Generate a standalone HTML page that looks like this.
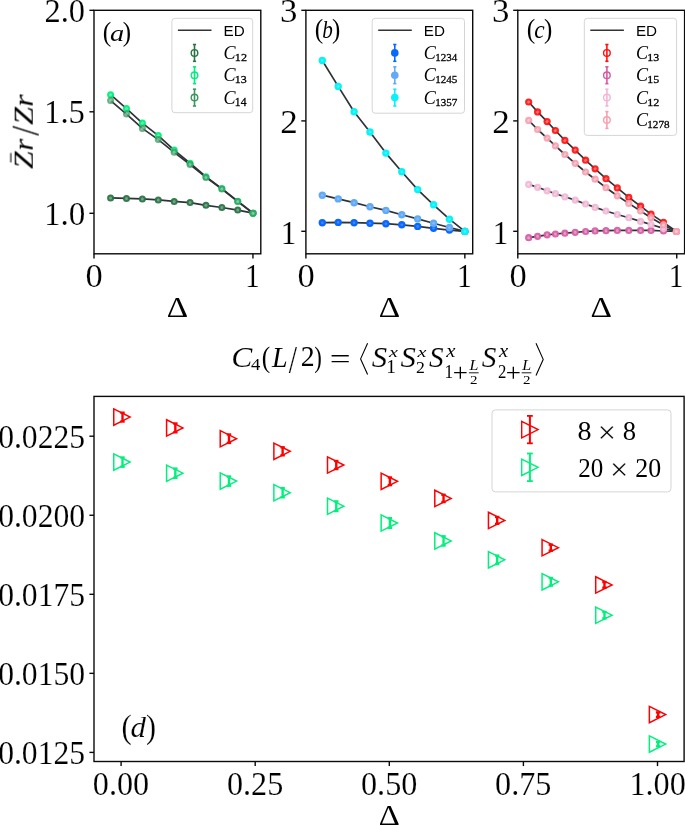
<!DOCTYPE html>
<html><head><meta charset="utf-8"><title>figure</title>
<style>html,body{margin:0;padding:0;background:#fff;overflow:hidden}svg{display:block}</style>
</head><body>
<svg width="685" height="825" viewBox="0 0 685 825"><rect width="685" height="825" fill="#fff"/>
<line x1="94" y1="253.8" x2="94" y2="258.4" stroke="#0a0a0a" stroke-width="1.4" />
<line x1="252.95" y1="253.8" x2="252.95" y2="258.4" stroke="#0a0a0a" stroke-width="1.4" />
<line x1="89.4" y1="10.3" x2="94" y2="10.3" stroke="#0a0a0a" stroke-width="1.4" />
<line x1="89.4" y1="111.8" x2="94" y2="111.8" stroke="#0a0a0a" stroke-width="1.4" />
<line x1="89.4" y1="213.3" x2="94" y2="213.3" stroke="#0a0a0a" stroke-width="1.4" />
<rect x="94" y="10.3" width="166.8" height="243.5" fill="none" stroke="#0a0a0a" stroke-width="1.4"/>
<line x1="305.9" y1="253.8" x2="305.9" y2="258.4" stroke="#0a0a0a" stroke-width="1.4" />
<line x1="464.85" y1="253.8" x2="464.85" y2="258.4" stroke="#0a0a0a" stroke-width="1.4" />
<line x1="301.3" y1="10.3" x2="305.9" y2="10.3" stroke="#0a0a0a" stroke-width="1.4" />
<line x1="301.3" y1="120.9" x2="305.9" y2="120.9" stroke="#0a0a0a" stroke-width="1.4" />
<line x1="301.3" y1="231.3" x2="305.9" y2="231.3" stroke="#0a0a0a" stroke-width="1.4" />
<rect x="305.9" y="10.3" width="166.8" height="243.5" fill="none" stroke="#0a0a0a" stroke-width="1.4"/>
<line x1="517.8" y1="253.8" x2="517.8" y2="258.4" stroke="#0a0a0a" stroke-width="1.4" />
<line x1="676.75" y1="253.8" x2="676.75" y2="258.4" stroke="#0a0a0a" stroke-width="1.4" />
<line x1="513.2" y1="10.3" x2="517.8" y2="10.3" stroke="#0a0a0a" stroke-width="1.4" />
<line x1="513.2" y1="120.9" x2="517.8" y2="120.9" stroke="#0a0a0a" stroke-width="1.4" />
<line x1="513.2" y1="231.3" x2="517.8" y2="231.3" stroke="#0a0a0a" stroke-width="1.4" />
<rect x="517.8" y="10.3" width="166.8" height="243.5" fill="none" stroke="#0a0a0a" stroke-width="1.4"/>
<polyline points="110.59,197.9 126.49,198.4 142.38,198.9 158.28,199.9 174.17,201.4 190.07,202.6 205.96,205.3 221.86,207.5 237.75,210.1 253.05,213.2" fill="none" stroke="#2e3338" stroke-width="1.7" stroke-linejoin="round" />
<polyline points="110.59,94.7 126.49,108.6 142.38,123.1 158.28,135.6 174.17,150.1 190.07,163.2 205.96,176.7 221.86,188.6 237.75,201.2 253.05,213.2" fill="none" stroke="#2e3338" stroke-width="1.7" stroke-linejoin="round" />
<polyline points="110.59,100.6 126.49,114.1 142.38,128.4 158.28,139.6 174.17,152.3 190.07,164.5 205.96,177.4 221.86,189 237.75,201.6 253.05,213.2" fill="none" stroke="#2e3338" stroke-width="1.7" stroke-linejoin="round" />
<circle cx="110.59" cy="197.9" r="3.5" fill="#2a7444" fill-opacity="0.95"/>
<circle cx="110.59" cy="197.9" r="1.5" fill="#fff" fill-opacity="0.35"/>
<circle cx="126.49" cy="198.4" r="3.5" fill="#2a7444" fill-opacity="0.95"/>
<circle cx="126.49" cy="198.4" r="1.5" fill="#fff" fill-opacity="0.35"/>
<circle cx="142.38" cy="198.9" r="3.5" fill="#2a7444" fill-opacity="0.95"/>
<circle cx="142.38" cy="198.9" r="1.5" fill="#fff" fill-opacity="0.35"/>
<circle cx="158.28" cy="199.9" r="3.5" fill="#2a7444" fill-opacity="0.95"/>
<circle cx="158.28" cy="199.9" r="1.5" fill="#fff" fill-opacity="0.35"/>
<circle cx="174.17" cy="201.4" r="3.5" fill="#2a7444" fill-opacity="0.95"/>
<circle cx="174.17" cy="201.4" r="1.5" fill="#fff" fill-opacity="0.35"/>
<circle cx="190.07" cy="202.6" r="3.5" fill="#2a7444" fill-opacity="0.95"/>
<circle cx="190.07" cy="202.6" r="1.5" fill="#fff" fill-opacity="0.35"/>
<circle cx="205.96" cy="205.3" r="3.5" fill="#2a7444" fill-opacity="0.95"/>
<circle cx="205.96" cy="205.3" r="1.5" fill="#fff" fill-opacity="0.35"/>
<circle cx="221.86" cy="207.5" r="3.5" fill="#2a7444" fill-opacity="0.95"/>
<circle cx="221.86" cy="207.5" r="1.5" fill="#fff" fill-opacity="0.35"/>
<circle cx="237.75" cy="210.1" r="3.5" fill="#2a7444" fill-opacity="0.95"/>
<circle cx="237.75" cy="210.1" r="1.5" fill="#fff" fill-opacity="0.35"/>
<circle cx="253.05" cy="213.2" r="3.5" fill="#2a7444" fill-opacity="0.95"/>
<circle cx="253.05" cy="213.2" r="1.5" fill="#fff" fill-opacity="0.35"/>
<circle cx="110.59" cy="94.7" r="3.5" fill="#00ef7a" fill-opacity="0.95"/>
<circle cx="110.59" cy="94.7" r="1.5" fill="#fff" fill-opacity="0.35"/>
<circle cx="126.49" cy="108.6" r="3.5" fill="#00ef7a" fill-opacity="0.95"/>
<circle cx="126.49" cy="108.6" r="1.5" fill="#fff" fill-opacity="0.35"/>
<circle cx="142.38" cy="123.1" r="3.5" fill="#00ef7a" fill-opacity="0.95"/>
<circle cx="142.38" cy="123.1" r="1.5" fill="#fff" fill-opacity="0.35"/>
<circle cx="158.28" cy="135.6" r="3.5" fill="#00ef7a" fill-opacity="0.95"/>
<circle cx="158.28" cy="135.6" r="1.5" fill="#fff" fill-opacity="0.35"/>
<circle cx="174.17" cy="150.1" r="3.5" fill="#00ef7a" fill-opacity="0.95"/>
<circle cx="174.17" cy="150.1" r="1.5" fill="#fff" fill-opacity="0.35"/>
<circle cx="190.07" cy="163.2" r="3.5" fill="#00ef7a" fill-opacity="0.95"/>
<circle cx="190.07" cy="163.2" r="1.5" fill="#fff" fill-opacity="0.35"/>
<circle cx="205.96" cy="176.7" r="3.5" fill="#00ef7a" fill-opacity="0.95"/>
<circle cx="205.96" cy="176.7" r="1.5" fill="#fff" fill-opacity="0.35"/>
<circle cx="221.86" cy="188.6" r="3.5" fill="#00ef7a" fill-opacity="0.95"/>
<circle cx="221.86" cy="188.6" r="1.5" fill="#fff" fill-opacity="0.35"/>
<circle cx="237.75" cy="201.2" r="3.5" fill="#00ef7a" fill-opacity="0.95"/>
<circle cx="237.75" cy="201.2" r="1.5" fill="#fff" fill-opacity="0.35"/>
<circle cx="253.05" cy="213.2" r="3.5" fill="#00ef7a" fill-opacity="0.95"/>
<circle cx="253.05" cy="213.2" r="1.5" fill="#fff" fill-opacity="0.35"/>
<circle cx="110.59" cy="100.6" r="3.5" fill="#3c965f" fill-opacity="0.75"/>
<circle cx="110.59" cy="100.6" r="1.5" fill="#fff" fill-opacity="0.35"/>
<circle cx="126.49" cy="114.1" r="3.5" fill="#3c965f" fill-opacity="0.75"/>
<circle cx="126.49" cy="114.1" r="1.5" fill="#fff" fill-opacity="0.35"/>
<circle cx="142.38" cy="128.4" r="3.5" fill="#3c965f" fill-opacity="0.75"/>
<circle cx="142.38" cy="128.4" r="1.5" fill="#fff" fill-opacity="0.35"/>
<circle cx="158.28" cy="139.6" r="3.5" fill="#3c965f" fill-opacity="0.75"/>
<circle cx="158.28" cy="139.6" r="1.5" fill="#fff" fill-opacity="0.35"/>
<circle cx="174.17" cy="152.3" r="3.5" fill="#3c965f" fill-opacity="0.75"/>
<circle cx="174.17" cy="152.3" r="1.5" fill="#fff" fill-opacity="0.35"/>
<circle cx="190.07" cy="164.5" r="3.5" fill="#3c965f" fill-opacity="0.75"/>
<circle cx="190.07" cy="164.5" r="1.5" fill="#fff" fill-opacity="0.35"/>
<circle cx="205.96" cy="177.4" r="3.5" fill="#3c965f" fill-opacity="0.75"/>
<circle cx="205.96" cy="177.4" r="1.5" fill="#fff" fill-opacity="0.35"/>
<circle cx="221.86" cy="189" r="3.5" fill="#3c965f" fill-opacity="0.75"/>
<circle cx="221.86" cy="189" r="1.5" fill="#fff" fill-opacity="0.35"/>
<circle cx="237.75" cy="201.6" r="3.5" fill="#3c965f" fill-opacity="0.75"/>
<circle cx="237.75" cy="201.6" r="1.5" fill="#fff" fill-opacity="0.35"/>
<circle cx="253.05" cy="213.2" r="3.5" fill="#3c965f" fill-opacity="0.75"/>
<circle cx="253.05" cy="213.2" r="1.5" fill="#fff" fill-opacity="0.35"/>
<polyline points="322.29,222.7 338.19,222.4 354.08,222.7 369.98,223.2 385.88,223.7 401.77,224.8 417.66,226.4 433.56,228.3 449.45,230.1 464.85,231.4" fill="none" stroke="#2e3338" stroke-width="1.7" stroke-linejoin="round" />
<polyline points="322.29,195.2 338.19,198.9 354.08,202.7 369.98,206.7 385.88,210.4 401.77,214.7 417.66,218.9 433.56,223.2 449.45,227.5 464.85,231.4" fill="none" stroke="#2e3338" stroke-width="1.7" stroke-linejoin="round" />
<polyline points="322.29,60.5 338.19,86.4 354.08,111.7 369.98,132 385.88,153.1 401.77,171.7 417.66,189.6 433.56,204.8 449.45,219.2 464.85,231.4" fill="none" stroke="#2e3338" stroke-width="1.7" stroke-linejoin="round" />
<circle cx="322.29" cy="222.7" r="3.7" fill="#0a68ff" fill-opacity="1.0"/>
<circle cx="322.29" cy="222.7" r="1.3" fill="#fff" fill-opacity="0.22"/>
<circle cx="338.19" cy="222.4" r="3.7" fill="#0a68ff" fill-opacity="1.0"/>
<circle cx="338.19" cy="222.4" r="1.3" fill="#fff" fill-opacity="0.22"/>
<circle cx="354.08" cy="222.7" r="3.7" fill="#0a68ff" fill-opacity="1.0"/>
<circle cx="354.08" cy="222.7" r="1.3" fill="#fff" fill-opacity="0.22"/>
<circle cx="369.98" cy="223.2" r="3.7" fill="#0a68ff" fill-opacity="1.0"/>
<circle cx="369.98" cy="223.2" r="1.3" fill="#fff" fill-opacity="0.22"/>
<circle cx="385.88" cy="223.7" r="3.7" fill="#0a68ff" fill-opacity="1.0"/>
<circle cx="385.88" cy="223.7" r="1.3" fill="#fff" fill-opacity="0.22"/>
<circle cx="401.77" cy="224.8" r="3.7" fill="#0a68ff" fill-opacity="1.0"/>
<circle cx="401.77" cy="224.8" r="1.3" fill="#fff" fill-opacity="0.22"/>
<circle cx="417.66" cy="226.4" r="3.7" fill="#0a68ff" fill-opacity="1.0"/>
<circle cx="417.66" cy="226.4" r="1.3" fill="#fff" fill-opacity="0.22"/>
<circle cx="433.56" cy="228.3" r="3.7" fill="#0a68ff" fill-opacity="1.0"/>
<circle cx="433.56" cy="228.3" r="1.3" fill="#fff" fill-opacity="0.22"/>
<circle cx="449.45" cy="230.1" r="3.7" fill="#0a68ff" fill-opacity="1.0"/>
<circle cx="449.45" cy="230.1" r="1.3" fill="#fff" fill-opacity="0.22"/>
<circle cx="464.85" cy="231.4" r="3.7" fill="#0a68ff" fill-opacity="1.0"/>
<circle cx="464.85" cy="231.4" r="1.3" fill="#fff" fill-opacity="0.22"/>
<circle cx="322.29" cy="195.2" r="3.7" fill="#62aaf6" fill-opacity="1.0"/>
<circle cx="322.29" cy="195.2" r="1.3" fill="#fff" fill-opacity="0.22"/>
<circle cx="338.19" cy="198.9" r="3.7" fill="#62aaf6" fill-opacity="1.0"/>
<circle cx="338.19" cy="198.9" r="1.3" fill="#fff" fill-opacity="0.22"/>
<circle cx="354.08" cy="202.7" r="3.7" fill="#62aaf6" fill-opacity="1.0"/>
<circle cx="354.08" cy="202.7" r="1.3" fill="#fff" fill-opacity="0.22"/>
<circle cx="369.98" cy="206.7" r="3.7" fill="#62aaf6" fill-opacity="1.0"/>
<circle cx="369.98" cy="206.7" r="1.3" fill="#fff" fill-opacity="0.22"/>
<circle cx="385.88" cy="210.4" r="3.7" fill="#62aaf6" fill-opacity="1.0"/>
<circle cx="385.88" cy="210.4" r="1.3" fill="#fff" fill-opacity="0.22"/>
<circle cx="401.77" cy="214.7" r="3.7" fill="#62aaf6" fill-opacity="1.0"/>
<circle cx="401.77" cy="214.7" r="1.3" fill="#fff" fill-opacity="0.22"/>
<circle cx="417.66" cy="218.9" r="3.7" fill="#62aaf6" fill-opacity="1.0"/>
<circle cx="417.66" cy="218.9" r="1.3" fill="#fff" fill-opacity="0.22"/>
<circle cx="433.56" cy="223.2" r="3.7" fill="#62aaf6" fill-opacity="1.0"/>
<circle cx="433.56" cy="223.2" r="1.3" fill="#fff" fill-opacity="0.22"/>
<circle cx="449.45" cy="227.5" r="3.7" fill="#62aaf6" fill-opacity="1.0"/>
<circle cx="449.45" cy="227.5" r="1.3" fill="#fff" fill-opacity="0.22"/>
<circle cx="464.85" cy="231.4" r="3.7" fill="#62aaf6" fill-opacity="1.0"/>
<circle cx="464.85" cy="231.4" r="1.3" fill="#fff" fill-opacity="0.22"/>
<circle cx="322.29" cy="60.5" r="3.7" fill="#0af2f6" fill-opacity="1.0"/>
<circle cx="322.29" cy="60.5" r="1.3" fill="#fff" fill-opacity="0.22"/>
<circle cx="338.19" cy="86.4" r="3.7" fill="#0af2f6" fill-opacity="1.0"/>
<circle cx="338.19" cy="86.4" r="1.3" fill="#fff" fill-opacity="0.22"/>
<circle cx="354.08" cy="111.7" r="3.7" fill="#0af2f6" fill-opacity="1.0"/>
<circle cx="354.08" cy="111.7" r="1.3" fill="#fff" fill-opacity="0.22"/>
<circle cx="369.98" cy="132" r="3.7" fill="#0af2f6" fill-opacity="1.0"/>
<circle cx="369.98" cy="132" r="1.3" fill="#fff" fill-opacity="0.22"/>
<circle cx="385.88" cy="153.1" r="3.7" fill="#0af2f6" fill-opacity="1.0"/>
<circle cx="385.88" cy="153.1" r="1.3" fill="#fff" fill-opacity="0.22"/>
<circle cx="401.77" cy="171.7" r="3.7" fill="#0af2f6" fill-opacity="1.0"/>
<circle cx="401.77" cy="171.7" r="1.3" fill="#fff" fill-opacity="0.22"/>
<circle cx="417.66" cy="189.6" r="3.7" fill="#0af2f6" fill-opacity="1.0"/>
<circle cx="417.66" cy="189.6" r="1.3" fill="#fff" fill-opacity="0.22"/>
<circle cx="433.56" cy="204.8" r="3.7" fill="#0af2f6" fill-opacity="1.0"/>
<circle cx="433.56" cy="204.8" r="1.3" fill="#fff" fill-opacity="0.22"/>
<circle cx="449.45" cy="219.2" r="3.7" fill="#0af2f6" fill-opacity="1.0"/>
<circle cx="449.45" cy="219.2" r="1.3" fill="#fff" fill-opacity="0.22"/>
<circle cx="464.85" cy="231.4" r="3.7" fill="#0af2f6" fill-opacity="1.0"/>
<circle cx="464.85" cy="231.4" r="1.3" fill="#fff" fill-opacity="0.22"/>
<polyline points="528.7,102 537.6,111.9 547.1,121.6 555.4,130.5 564.9,140.4 575.2,150.1 585.6,160.2 595.1,168.8 606,178.7 617.3,187.9 628.8,197.4 640.6,206.2 651,214.1 663.5,222.4 676.4,231.5" fill="none" stroke="#2e3338" stroke-width="1.7" stroke-linejoin="round" />
<polyline points="528.7,237.7 537.6,236.3 547.1,234.8 555.4,234 564.9,233.2 575.2,232.3 585.6,231.5 595.1,230.9 606,230.7 617.3,230.4 628.8,230.4 640.6,230.4 651,230.4 663.5,231 676.4,231.5" fill="none" stroke="#2e3338" stroke-width="1.7" stroke-linejoin="round" />
<polyline points="528.7,184.4 537.6,187.3 547.1,190.8 555.4,193.7 564.9,196.8 575.2,200.1 585.6,204 595.1,207.4 606,211 617.3,214.5 628.8,217.7 640.6,221.4 651,224.5 663.5,228.4 676.4,231.5" fill="none" stroke="#2e3338" stroke-width="1.7" stroke-linejoin="round" />
<polyline points="528.7,120.4 537.6,129.5 547.1,138.1 555.4,145.8 564.9,154.5 575.2,163.3 585.6,172 595.1,179.2 606,187.7 617.3,195.8 628.8,203.4 640.6,211 651,217.7 663.5,224.9 676.4,231.5" fill="none" stroke="#2e3338" stroke-width="1.7" stroke-linejoin="round" />
<circle cx="528.7" cy="102" r="3.6" fill="#ff1010" fill-opacity="0.92"/>
<circle cx="528.7" cy="102" r="1.5" fill="#fff" fill-opacity="0.4"/>
<circle cx="537.6" cy="111.9" r="3.6" fill="#ff1010" fill-opacity="0.92"/>
<circle cx="537.6" cy="111.9" r="1.5" fill="#fff" fill-opacity="0.4"/>
<circle cx="547.1" cy="121.6" r="3.6" fill="#ff1010" fill-opacity="0.92"/>
<circle cx="547.1" cy="121.6" r="1.5" fill="#fff" fill-opacity="0.4"/>
<circle cx="555.4" cy="130.5" r="3.6" fill="#ff1010" fill-opacity="0.92"/>
<circle cx="555.4" cy="130.5" r="1.5" fill="#fff" fill-opacity="0.4"/>
<circle cx="564.9" cy="140.4" r="3.6" fill="#ff1010" fill-opacity="0.92"/>
<circle cx="564.9" cy="140.4" r="1.5" fill="#fff" fill-opacity="0.4"/>
<circle cx="575.2" cy="150.1" r="3.6" fill="#ff1010" fill-opacity="0.92"/>
<circle cx="575.2" cy="150.1" r="1.5" fill="#fff" fill-opacity="0.4"/>
<circle cx="585.6" cy="160.2" r="3.6" fill="#ff1010" fill-opacity="0.92"/>
<circle cx="585.6" cy="160.2" r="1.5" fill="#fff" fill-opacity="0.4"/>
<circle cx="595.1" cy="168.8" r="3.6" fill="#ff1010" fill-opacity="0.92"/>
<circle cx="595.1" cy="168.8" r="1.5" fill="#fff" fill-opacity="0.4"/>
<circle cx="606" cy="178.7" r="3.6" fill="#ff1010" fill-opacity="0.92"/>
<circle cx="606" cy="178.7" r="1.5" fill="#fff" fill-opacity="0.4"/>
<circle cx="617.3" cy="187.9" r="3.6" fill="#ff1010" fill-opacity="0.92"/>
<circle cx="617.3" cy="187.9" r="1.5" fill="#fff" fill-opacity="0.4"/>
<circle cx="628.8" cy="197.4" r="3.6" fill="#ff1010" fill-opacity="0.92"/>
<circle cx="628.8" cy="197.4" r="1.5" fill="#fff" fill-opacity="0.4"/>
<circle cx="640.6" cy="206.2" r="3.6" fill="#ff1010" fill-opacity="0.92"/>
<circle cx="640.6" cy="206.2" r="1.5" fill="#fff" fill-opacity="0.4"/>
<circle cx="651" cy="214.1" r="3.6" fill="#ff1010" fill-opacity="0.92"/>
<circle cx="651" cy="214.1" r="1.5" fill="#fff" fill-opacity="0.4"/>
<circle cx="663.5" cy="222.4" r="3.6" fill="#ff1010" fill-opacity="0.92"/>
<circle cx="663.5" cy="222.4" r="1.5" fill="#fff" fill-opacity="0.4"/>
<circle cx="676.4" cy="231.5" r="3.6" fill="#ff1010" fill-opacity="0.92"/>
<circle cx="676.4" cy="231.5" r="1.5" fill="#fff" fill-opacity="0.4"/>
<circle cx="528.7" cy="237.7" r="3.6" fill="#d65aa2" fill-opacity="0.92"/>
<circle cx="528.7" cy="237.7" r="1.5" fill="#fff" fill-opacity="0.4"/>
<circle cx="537.6" cy="236.3" r="3.6" fill="#d65aa2" fill-opacity="0.92"/>
<circle cx="537.6" cy="236.3" r="1.5" fill="#fff" fill-opacity="0.4"/>
<circle cx="547.1" cy="234.8" r="3.6" fill="#d65aa2" fill-opacity="0.92"/>
<circle cx="547.1" cy="234.8" r="1.5" fill="#fff" fill-opacity="0.4"/>
<circle cx="555.4" cy="234" r="3.6" fill="#d65aa2" fill-opacity="0.92"/>
<circle cx="555.4" cy="234" r="1.5" fill="#fff" fill-opacity="0.4"/>
<circle cx="564.9" cy="233.2" r="3.6" fill="#d65aa2" fill-opacity="0.92"/>
<circle cx="564.9" cy="233.2" r="1.5" fill="#fff" fill-opacity="0.4"/>
<circle cx="575.2" cy="232.3" r="3.6" fill="#d65aa2" fill-opacity="0.92"/>
<circle cx="575.2" cy="232.3" r="1.5" fill="#fff" fill-opacity="0.4"/>
<circle cx="585.6" cy="231.5" r="3.6" fill="#d65aa2" fill-opacity="0.92"/>
<circle cx="585.6" cy="231.5" r="1.5" fill="#fff" fill-opacity="0.4"/>
<circle cx="595.1" cy="230.9" r="3.6" fill="#d65aa2" fill-opacity="0.92"/>
<circle cx="595.1" cy="230.9" r="1.5" fill="#fff" fill-opacity="0.4"/>
<circle cx="606" cy="230.7" r="3.6" fill="#d65aa2" fill-opacity="0.92"/>
<circle cx="606" cy="230.7" r="1.5" fill="#fff" fill-opacity="0.4"/>
<circle cx="617.3" cy="230.4" r="3.6" fill="#d65aa2" fill-opacity="0.92"/>
<circle cx="617.3" cy="230.4" r="1.5" fill="#fff" fill-opacity="0.4"/>
<circle cx="628.8" cy="230.4" r="3.6" fill="#d65aa2" fill-opacity="0.92"/>
<circle cx="628.8" cy="230.4" r="1.5" fill="#fff" fill-opacity="0.4"/>
<circle cx="640.6" cy="230.4" r="3.6" fill="#d65aa2" fill-opacity="0.92"/>
<circle cx="640.6" cy="230.4" r="1.5" fill="#fff" fill-opacity="0.4"/>
<circle cx="651" cy="230.4" r="3.6" fill="#d65aa2" fill-opacity="0.92"/>
<circle cx="651" cy="230.4" r="1.5" fill="#fff" fill-opacity="0.4"/>
<circle cx="663.5" cy="231" r="3.6" fill="#d65aa2" fill-opacity="0.92"/>
<circle cx="663.5" cy="231" r="1.5" fill="#fff" fill-opacity="0.4"/>
<circle cx="676.4" cy="231.5" r="3.6" fill="#d65aa2" fill-opacity="0.92"/>
<circle cx="676.4" cy="231.5" r="1.5" fill="#fff" fill-opacity="0.4"/>
<circle cx="528.7" cy="184.4" r="3.6" fill="#f2b6d6" fill-opacity="0.92"/>
<circle cx="528.7" cy="184.4" r="1.5" fill="#fff" fill-opacity="0.4"/>
<circle cx="537.6" cy="187.3" r="3.6" fill="#f2b6d6" fill-opacity="0.92"/>
<circle cx="537.6" cy="187.3" r="1.5" fill="#fff" fill-opacity="0.4"/>
<circle cx="547.1" cy="190.8" r="3.6" fill="#f2b6d6" fill-opacity="0.92"/>
<circle cx="547.1" cy="190.8" r="1.5" fill="#fff" fill-opacity="0.4"/>
<circle cx="555.4" cy="193.7" r="3.6" fill="#f2b6d6" fill-opacity="0.92"/>
<circle cx="555.4" cy="193.7" r="1.5" fill="#fff" fill-opacity="0.4"/>
<circle cx="564.9" cy="196.8" r="3.6" fill="#f2b6d6" fill-opacity="0.92"/>
<circle cx="564.9" cy="196.8" r="1.5" fill="#fff" fill-opacity="0.4"/>
<circle cx="575.2" cy="200.1" r="3.6" fill="#f2b6d6" fill-opacity="0.92"/>
<circle cx="575.2" cy="200.1" r="1.5" fill="#fff" fill-opacity="0.4"/>
<circle cx="585.6" cy="204" r="3.6" fill="#f2b6d6" fill-opacity="0.92"/>
<circle cx="585.6" cy="204" r="1.5" fill="#fff" fill-opacity="0.4"/>
<circle cx="595.1" cy="207.4" r="3.6" fill="#f2b6d6" fill-opacity="0.92"/>
<circle cx="595.1" cy="207.4" r="1.5" fill="#fff" fill-opacity="0.4"/>
<circle cx="606" cy="211" r="3.6" fill="#f2b6d6" fill-opacity="0.92"/>
<circle cx="606" cy="211" r="1.5" fill="#fff" fill-opacity="0.4"/>
<circle cx="617.3" cy="214.5" r="3.6" fill="#f2b6d6" fill-opacity="0.92"/>
<circle cx="617.3" cy="214.5" r="1.5" fill="#fff" fill-opacity="0.4"/>
<circle cx="628.8" cy="217.7" r="3.6" fill="#f2b6d6" fill-opacity="0.92"/>
<circle cx="628.8" cy="217.7" r="1.5" fill="#fff" fill-opacity="0.4"/>
<circle cx="640.6" cy="221.4" r="3.6" fill="#f2b6d6" fill-opacity="0.92"/>
<circle cx="640.6" cy="221.4" r="1.5" fill="#fff" fill-opacity="0.4"/>
<circle cx="651" cy="224.5" r="3.6" fill="#f2b6d6" fill-opacity="0.92"/>
<circle cx="651" cy="224.5" r="1.5" fill="#fff" fill-opacity="0.4"/>
<circle cx="663.5" cy="228.4" r="3.6" fill="#f2b6d6" fill-opacity="0.92"/>
<circle cx="663.5" cy="228.4" r="1.5" fill="#fff" fill-opacity="0.4"/>
<circle cx="676.4" cy="231.5" r="3.6" fill="#f2b6d6" fill-opacity="0.92"/>
<circle cx="676.4" cy="231.5" r="1.5" fill="#fff" fill-opacity="0.4"/>
<circle cx="528.7" cy="120.4" r="3.6" fill="#f7a0b0" fill-opacity="0.92"/>
<circle cx="528.7" cy="120.4" r="1.5" fill="#fff" fill-opacity="0.4"/>
<circle cx="537.6" cy="129.5" r="3.6" fill="#f7a0b0" fill-opacity="0.92"/>
<circle cx="537.6" cy="129.5" r="1.5" fill="#fff" fill-opacity="0.4"/>
<circle cx="547.1" cy="138.1" r="3.6" fill="#f7a0b0" fill-opacity="0.92"/>
<circle cx="547.1" cy="138.1" r="1.5" fill="#fff" fill-opacity="0.4"/>
<circle cx="555.4" cy="145.8" r="3.6" fill="#f7a0b0" fill-opacity="0.92"/>
<circle cx="555.4" cy="145.8" r="1.5" fill="#fff" fill-opacity="0.4"/>
<circle cx="564.9" cy="154.5" r="3.6" fill="#f7a0b0" fill-opacity="0.92"/>
<circle cx="564.9" cy="154.5" r="1.5" fill="#fff" fill-opacity="0.4"/>
<circle cx="575.2" cy="163.3" r="3.6" fill="#f7a0b0" fill-opacity="0.92"/>
<circle cx="575.2" cy="163.3" r="1.5" fill="#fff" fill-opacity="0.4"/>
<circle cx="585.6" cy="172" r="3.6" fill="#f7a0b0" fill-opacity="0.92"/>
<circle cx="585.6" cy="172" r="1.5" fill="#fff" fill-opacity="0.4"/>
<circle cx="595.1" cy="179.2" r="3.6" fill="#f7a0b0" fill-opacity="0.92"/>
<circle cx="595.1" cy="179.2" r="1.5" fill="#fff" fill-opacity="0.4"/>
<circle cx="606" cy="187.7" r="3.6" fill="#f7a0b0" fill-opacity="0.92"/>
<circle cx="606" cy="187.7" r="1.5" fill="#fff" fill-opacity="0.4"/>
<circle cx="617.3" cy="195.8" r="3.6" fill="#f7a0b0" fill-opacity="0.92"/>
<circle cx="617.3" cy="195.8" r="1.5" fill="#fff" fill-opacity="0.4"/>
<circle cx="628.8" cy="203.4" r="3.6" fill="#f7a0b0" fill-opacity="0.92"/>
<circle cx="628.8" cy="203.4" r="1.5" fill="#fff" fill-opacity="0.4"/>
<circle cx="640.6" cy="211" r="3.6" fill="#f7a0b0" fill-opacity="0.92"/>
<circle cx="640.6" cy="211" r="1.5" fill="#fff" fill-opacity="0.4"/>
<circle cx="651" cy="217.7" r="3.6" fill="#f7a0b0" fill-opacity="0.92"/>
<circle cx="651" cy="217.7" r="1.5" fill="#fff" fill-opacity="0.4"/>
<circle cx="663.5" cy="224.9" r="3.6" fill="#f7a0b0" fill-opacity="0.92"/>
<circle cx="663.5" cy="224.9" r="1.5" fill="#fff" fill-opacity="0.4"/>
<circle cx="676.4" cy="231.5" r="3.6" fill="#f7a0b0" fill-opacity="0.92"/>
<circle cx="676.4" cy="231.5" r="1.5" fill="#fff" fill-opacity="0.4"/>
<rect x="171.9" y="18.3" width="80.8" height="94.4" rx="3" ry="3" fill="#fff" fill-opacity="0.8" stroke="#d5d5d5" stroke-width="1"/>
<line x1="177.9" y1="30.2" x2="211.5" y2="30.2" stroke="#333" stroke-width="1.6" />
<line x1="194.5" y1="44.5" x2="194.5" y2="61.3" stroke="#2a7444" stroke-width="1.6" />
<line x1="192.9" y1="44.5" x2="196.1" y2="44.5" stroke="#2a7444" stroke-width="1.6" />
<line x1="192.9" y1="61.3" x2="196.1" y2="61.3" stroke="#2a7444" stroke-width="1.6" />
<circle cx="194.5" cy="52.9" r="3.3" fill="none" stroke="#2a7444" stroke-width="1.4"/>
<line x1="194.5" y1="66.85" x2="194.5" y2="83.65" stroke="#00ef7a" stroke-width="1.6" />
<line x1="192.9" y1="66.85" x2="196.1" y2="66.85" stroke="#00ef7a" stroke-width="1.6" />
<line x1="192.9" y1="83.65" x2="196.1" y2="83.65" stroke="#00ef7a" stroke-width="1.6" />
<circle cx="194.5" cy="75.25" r="3.3" fill="none" stroke="#00ef7a" stroke-width="1.4"/>
<line x1="194.5" y1="89.2" x2="194.5" y2="106" stroke="#3c965f" stroke-width="1.6" />
<line x1="192.9" y1="89.2" x2="196.1" y2="89.2" stroke="#3c965f" stroke-width="1.6" />
<line x1="192.9" y1="106" x2="196.1" y2="106" stroke="#3c965f" stroke-width="1.6" />
<circle cx="194.5" cy="97.6" r="3.3" fill="none" stroke="#3c965f" stroke-width="1.4"/>
<rect x="372.2" y="18.3" width="92.3" height="94.9" rx="3" ry="3" fill="#fff" fill-opacity="0.8" stroke="#d5d5d5" stroke-width="1"/>
<line x1="378.2" y1="30.2" x2="411.8" y2="30.2" stroke="#333" stroke-width="1.6" />
<line x1="394.8" y1="44.5" x2="394.8" y2="61.3" stroke="#0a68ff" stroke-width="1.6" />
<line x1="393.2" y1="44.5" x2="396.4" y2="44.5" stroke="#0a68ff" stroke-width="1.6" />
<line x1="393.2" y1="61.3" x2="396.4" y2="61.3" stroke="#0a68ff" stroke-width="1.6" />
<circle cx="394.8" cy="52.9" r="3.8" fill="#0a68ff"/>
<line x1="394.8" y1="66.85" x2="394.8" y2="83.65" stroke="#62aaf6" stroke-width="1.6" />
<line x1="393.2" y1="66.85" x2="396.4" y2="66.85" stroke="#62aaf6" stroke-width="1.6" />
<line x1="393.2" y1="83.65" x2="396.4" y2="83.65" stroke="#62aaf6" stroke-width="1.6" />
<circle cx="394.8" cy="75.25" r="3.8" fill="#62aaf6"/>
<line x1="394.8" y1="89.2" x2="394.8" y2="106" stroke="#0af2f6" stroke-width="1.6" />
<line x1="393.2" y1="89.2" x2="396.4" y2="89.2" stroke="#0af2f6" stroke-width="1.6" />
<line x1="393.2" y1="106" x2="396.4" y2="106" stroke="#0af2f6" stroke-width="1.6" />
<circle cx="394.8" cy="97.6" r="3.8" fill="#0af2f6"/>
<rect x="584.3" y="18.3" width="92.3" height="117.1" rx="3" ry="3" fill="#fff" fill-opacity="0.8" stroke="#d5d5d5" stroke-width="1"/>
<line x1="590.3" y1="30.2" x2="623.9" y2="30.2" stroke="#333" stroke-width="1.6" />
<line x1="606.9" y1="44.5" x2="606.9" y2="61.3" stroke="#ff1010" stroke-width="1.6" />
<line x1="605.3" y1="44.5" x2="608.5" y2="44.5" stroke="#ff1010" stroke-width="1.6" />
<line x1="605.3" y1="61.3" x2="608.5" y2="61.3" stroke="#ff1010" stroke-width="1.6" />
<circle cx="606.9" cy="52.9" r="3.3" fill="none" stroke="#ff1010" stroke-width="1.4"/>
<line x1="606.9" y1="66.85" x2="606.9" y2="83.65" stroke="#d65aa2" stroke-width="1.6" />
<line x1="605.3" y1="66.85" x2="608.5" y2="66.85" stroke="#d65aa2" stroke-width="1.6" />
<line x1="605.3" y1="83.65" x2="608.5" y2="83.65" stroke="#d65aa2" stroke-width="1.6" />
<circle cx="606.9" cy="75.25" r="3.3" fill="none" stroke="#d65aa2" stroke-width="1.4"/>
<line x1="606.9" y1="89.2" x2="606.9" y2="106" stroke="#f2b6d6" stroke-width="1.6" />
<line x1="605.3" y1="89.2" x2="608.5" y2="89.2" stroke="#f2b6d6" stroke-width="1.6" />
<line x1="605.3" y1="106" x2="608.5" y2="106" stroke="#f2b6d6" stroke-width="1.6" />
<circle cx="606.9" cy="97.6" r="3.3" fill="none" stroke="#f2b6d6" stroke-width="1.4"/>
<line x1="606.9" y1="111.6" x2="606.9" y2="128.4" stroke="#f7a0b0" stroke-width="1.6" />
<line x1="605.3" y1="111.6" x2="608.5" y2="111.6" stroke="#f7a0b0" stroke-width="1.6" />
<line x1="605.3" y1="128.4" x2="608.5" y2="128.4" stroke="#f7a0b0" stroke-width="1.6" />
<circle cx="606.9" cy="120" r="3.3" fill="none" stroke="#f7a0b0" stroke-width="1.4"/>
<line x1="121.1" y1="761.5" x2="121.1" y2="766.1" stroke="#0a0a0a" stroke-width="1.4" />
<line x1="255.2" y1="761.5" x2="255.2" y2="766.1" stroke="#0a0a0a" stroke-width="1.4" />
<line x1="389.3" y1="761.5" x2="389.3" y2="766.1" stroke="#0a0a0a" stroke-width="1.4" />
<line x1="523.4" y1="761.5" x2="523.4" y2="766.1" stroke="#0a0a0a" stroke-width="1.4" />
<line x1="657.5" y1="761.5" x2="657.5" y2="766.1" stroke="#0a0a0a" stroke-width="1.4" />
<line x1="89.4" y1="436.2" x2="94" y2="436.2" stroke="#0a0a0a" stroke-width="1.4" />
<line x1="89.4" y1="515.25" x2="94" y2="515.25" stroke="#0a0a0a" stroke-width="1.4" />
<line x1="89.4" y1="594.3" x2="94" y2="594.3" stroke="#0a0a0a" stroke-width="1.4" />
<line x1="89.4" y1="673.35" x2="94" y2="673.35" stroke="#0a0a0a" stroke-width="1.4" />
<line x1="89.4" y1="752.4" x2="94" y2="752.4" stroke="#0a0a0a" stroke-width="1.4" />
<rect x="94" y="396.4" width="590.1" height="365.1" fill="none" stroke="#0a0a0a" stroke-width="1.4"/>
<line x1="122.5" y1="412.7" x2="122.5" y2="421.5" stroke="#ff0000" stroke-width="2.4" />
<line x1="120.3" y1="412.7" x2="124.7" y2="412.7" stroke="#ff0000" stroke-width="2.4" />
<line x1="120.3" y1="421.5" x2="124.7" y2="421.5" stroke="#ff0000" stroke-width="2.4" />
<path d="M113.75,408.95 L130.05,417.1 L113.75,425.25 Z" fill="none" stroke="#ff0000" stroke-width="1.5" stroke-linejoin="miter"/>
<line x1="175.34" y1="423.5" x2="175.34" y2="432.3" stroke="#ff0000" stroke-width="2.4" />
<line x1="173.14" y1="423.5" x2="177.54" y2="423.5" stroke="#ff0000" stroke-width="2.4" />
<line x1="173.14" y1="432.3" x2="177.54" y2="432.3" stroke="#ff0000" stroke-width="2.4" />
<path d="M166.59,419.75 L182.89,427.9 L166.59,436.05 Z" fill="none" stroke="#ff0000" stroke-width="1.5" stroke-linejoin="miter"/>
<line x1="228.98" y1="434.5" x2="228.98" y2="442.9" stroke="#ff0000" stroke-width="2.4" />
<line x1="226.78" y1="434.5" x2="231.18" y2="434.5" stroke="#ff0000" stroke-width="2.4" />
<line x1="226.78" y1="442.9" x2="231.18" y2="442.9" stroke="#ff0000" stroke-width="2.4" />
<path d="M220.23,430.55 L236.53,438.7 L220.23,446.85 Z" fill="none" stroke="#ff0000" stroke-width="1.5" stroke-linejoin="miter"/>
<line x1="282.62" y1="447.3" x2="282.62" y2="455.3" stroke="#ff0000" stroke-width="2.4" />
<line x1="280.42" y1="447.3" x2="284.82" y2="447.3" stroke="#ff0000" stroke-width="2.4" />
<line x1="280.42" y1="455.3" x2="284.82" y2="455.3" stroke="#ff0000" stroke-width="2.4" />
<path d="M273.87,443.15 L290.17,451.3 L273.87,459.45 Z" fill="none" stroke="#ff0000" stroke-width="1.5" stroke-linejoin="miter"/>
<line x1="336.26" y1="461" x2="336.26" y2="469" stroke="#ff0000" stroke-width="2.4" />
<line x1="334.06" y1="461" x2="338.46" y2="461" stroke="#ff0000" stroke-width="2.4" />
<line x1="334.06" y1="469" x2="338.46" y2="469" stroke="#ff0000" stroke-width="2.4" />
<path d="M327.51,456.85 L343.81,465 L327.51,473.15 Z" fill="none" stroke="#ff0000" stroke-width="1.5" stroke-linejoin="miter"/>
<line x1="389.9" y1="477.5" x2="389.9" y2="485.1" stroke="#ff0000" stroke-width="2.4" />
<line x1="387.7" y1="477.5" x2="392.1" y2="477.5" stroke="#ff0000" stroke-width="2.4" />
<line x1="387.7" y1="485.1" x2="392.1" y2="485.1" stroke="#ff0000" stroke-width="2.4" />
<path d="M381.15,473.15 L397.45,481.3 L381.15,489.45 Z" fill="none" stroke="#ff0000" stroke-width="1.5" stroke-linejoin="miter"/>
<line x1="443.54" y1="494.8" x2="443.54" y2="502" stroke="#ff0000" stroke-width="2.4" />
<line x1="441.34" y1="494.8" x2="445.74" y2="494.8" stroke="#ff0000" stroke-width="2.4" />
<line x1="441.34" y1="502" x2="445.74" y2="502" stroke="#ff0000" stroke-width="2.4" />
<path d="M434.79,490.25 L451.09,498.4 L434.79,506.55 Z" fill="none" stroke="#ff0000" stroke-width="1.5" stroke-linejoin="miter"/>
<line x1="497.18" y1="517" x2="497.18" y2="523.8" stroke="#ff0000" stroke-width="2.4" />
<line x1="494.98" y1="517" x2="499.38" y2="517" stroke="#ff0000" stroke-width="2.4" />
<line x1="494.98" y1="523.8" x2="499.38" y2="523.8" stroke="#ff0000" stroke-width="2.4" />
<path d="M488.43,512.25 L504.73,520.4 L488.43,528.55 Z" fill="none" stroke="#ff0000" stroke-width="1.5" stroke-linejoin="miter"/>
<line x1="550.82" y1="544.7" x2="550.82" y2="550.7" stroke="#ff0000" stroke-width="2.4" />
<line x1="548.62" y1="544.7" x2="553.02" y2="544.7" stroke="#ff0000" stroke-width="2.4" />
<line x1="548.62" y1="550.7" x2="553.02" y2="550.7" stroke="#ff0000" stroke-width="2.4" />
<path d="M542.07,539.55 L558.37,547.7 L542.07,555.85 Z" fill="none" stroke="#ff0000" stroke-width="1.5" stroke-linejoin="miter"/>
<line x1="604.46" y1="582.1" x2="604.46" y2="587.7" stroke="#ff0000" stroke-width="2.4" />
<line x1="602.26" y1="582.1" x2="606.66" y2="582.1" stroke="#ff0000" stroke-width="2.4" />
<line x1="602.26" y1="587.7" x2="606.66" y2="587.7" stroke="#ff0000" stroke-width="2.4" />
<path d="M595.71,576.75 L612.01,584.9 L595.71,593.05 Z" fill="none" stroke="#ff0000" stroke-width="1.5" stroke-linejoin="miter"/>
<line x1="658.1" y1="712.4" x2="658.1" y2="716.8" stroke="#ff0000" stroke-width="2.4" />
<line x1="655.9" y1="712.4" x2="660.3" y2="712.4" stroke="#ff0000" stroke-width="2.4" />
<line x1="655.9" y1="716.8" x2="660.3" y2="716.8" stroke="#ff0000" stroke-width="2.4" />
<path d="M649.35,706.45 L665.65,714.6 L649.35,722.75 Z" fill="none" stroke="#ff0000" stroke-width="1.5" stroke-linejoin="miter"/>
<line x1="122.5" y1="457.5" x2="122.5" y2="466.7" stroke="#00f07c" stroke-width="2.4" />
<line x1="120.3" y1="457.5" x2="124.7" y2="457.5" stroke="#00f07c" stroke-width="2.4" />
<line x1="120.3" y1="466.7" x2="124.7" y2="466.7" stroke="#00f07c" stroke-width="2.4" />
<path d="M113.75,453.95 L130.05,462.1 L113.75,470.25 Z" fill="none" stroke="#00f07c" stroke-width="1.5" stroke-linejoin="miter"/>
<line x1="175.34" y1="468.6" x2="175.34" y2="477.8" stroke="#00f07c" stroke-width="2.4" />
<line x1="173.14" y1="468.6" x2="177.54" y2="468.6" stroke="#00f07c" stroke-width="2.4" />
<line x1="173.14" y1="477.8" x2="177.54" y2="477.8" stroke="#00f07c" stroke-width="2.4" />
<path d="M166.59,465.05 L182.89,473.2 L166.59,481.35 Z" fill="none" stroke="#00f07c" stroke-width="1.5" stroke-linejoin="miter"/>
<line x1="228.98" y1="476.5" x2="228.98" y2="485.7" stroke="#00f07c" stroke-width="2.4" />
<line x1="226.78" y1="476.5" x2="231.18" y2="476.5" stroke="#00f07c" stroke-width="2.4" />
<line x1="226.78" y1="485.7" x2="231.18" y2="485.7" stroke="#00f07c" stroke-width="2.4" />
<path d="M220.23,472.95 L236.53,481.1 L220.23,489.25 Z" fill="none" stroke="#00f07c" stroke-width="1.5" stroke-linejoin="miter"/>
<line x1="282.62" y1="488.1" x2="282.62" y2="497.3" stroke="#00f07c" stroke-width="2.4" />
<line x1="280.42" y1="488.1" x2="284.82" y2="488.1" stroke="#00f07c" stroke-width="2.4" />
<line x1="280.42" y1="497.3" x2="284.82" y2="497.3" stroke="#00f07c" stroke-width="2.4" />
<path d="M273.87,484.55 L290.17,492.7 L273.87,500.85 Z" fill="none" stroke="#00f07c" stroke-width="1.5" stroke-linejoin="miter"/>
<line x1="336.26" y1="501.4" x2="336.26" y2="511" stroke="#00f07c" stroke-width="2.4" />
<line x1="334.06" y1="501.4" x2="338.46" y2="501.4" stroke="#00f07c" stroke-width="2.4" />
<line x1="334.06" y1="511" x2="338.46" y2="511" stroke="#00f07c" stroke-width="2.4" />
<path d="M327.51,498.05 L343.81,506.2 L327.51,514.35 Z" fill="none" stroke="#00f07c" stroke-width="1.5" stroke-linejoin="miter"/>
<line x1="389.9" y1="518.2" x2="389.9" y2="527.8" stroke="#00f07c" stroke-width="2.4" />
<line x1="387.7" y1="518.2" x2="392.1" y2="518.2" stroke="#00f07c" stroke-width="2.4" />
<line x1="387.7" y1="527.8" x2="392.1" y2="527.8" stroke="#00f07c" stroke-width="2.4" />
<path d="M381.15,514.85 L397.45,523 L381.15,531.15 Z" fill="none" stroke="#00f07c" stroke-width="1.5" stroke-linejoin="miter"/>
<line x1="443.54" y1="536.3" x2="443.54" y2="545.5" stroke="#00f07c" stroke-width="2.4" />
<line x1="441.34" y1="536.3" x2="445.74" y2="536.3" stroke="#00f07c" stroke-width="2.4" />
<line x1="441.34" y1="545.5" x2="445.74" y2="545.5" stroke="#00f07c" stroke-width="2.4" />
<path d="M434.79,532.75 L451.09,540.9 L434.79,549.05 Z" fill="none" stroke="#00f07c" stroke-width="1.5" stroke-linejoin="miter"/>
<line x1="497.18" y1="555.6" x2="497.18" y2="564" stroke="#00f07c" stroke-width="2.4" />
<line x1="494.98" y1="555.6" x2="499.38" y2="555.6" stroke="#00f07c" stroke-width="2.4" />
<line x1="494.98" y1="564" x2="499.38" y2="564" stroke="#00f07c" stroke-width="2.4" />
<path d="M488.43,551.65 L504.73,559.8 L488.43,567.95 Z" fill="none" stroke="#00f07c" stroke-width="1.5" stroke-linejoin="miter"/>
<line x1="550.82" y1="578" x2="550.82" y2="585.6" stroke="#00f07c" stroke-width="2.4" />
<line x1="548.62" y1="578" x2="553.02" y2="578" stroke="#00f07c" stroke-width="2.4" />
<line x1="548.62" y1="585.6" x2="553.02" y2="585.6" stroke="#00f07c" stroke-width="2.4" />
<path d="M542.07,573.65 L558.37,581.8 L542.07,589.95 Z" fill="none" stroke="#00f07c" stroke-width="1.5" stroke-linejoin="miter"/>
<line x1="604.46" y1="612" x2="604.46" y2="618.4" stroke="#00f07c" stroke-width="2.4" />
<line x1="602.26" y1="612" x2="606.66" y2="612" stroke="#00f07c" stroke-width="2.4" />
<line x1="602.26" y1="618.4" x2="606.66" y2="618.4" stroke="#00f07c" stroke-width="2.4" />
<path d="M595.71,607.05 L612.01,615.2 L595.71,623.35 Z" fill="none" stroke="#00f07c" stroke-width="1.5" stroke-linejoin="miter"/>
<line x1="658.1" y1="741.9" x2="658.1" y2="746.3" stroke="#00f07c" stroke-width="2.4" />
<line x1="655.9" y1="741.9" x2="660.3" y2="741.9" stroke="#00f07c" stroke-width="2.4" />
<line x1="655.9" y1="746.3" x2="660.3" y2="746.3" stroke="#00f07c" stroke-width="2.4" />
<path d="M649.35,735.95 L665.65,744.1 L649.35,752.25 Z" fill="none" stroke="#00f07c" stroke-width="1.5" stroke-linejoin="miter"/>
<rect x="492" y="409.9" width="179" height="82" rx="3.5" ry="3.5" fill="#fff" fill-opacity="0.8" stroke="#d5d5d5" stroke-width="1"/>
<line x1="529.9" y1="415.9" x2="529.9" y2="443.3" stroke="#ff0000" stroke-width="2.0" />
<line x1="527" y1="415.9" x2="532.8" y2="415.9" stroke="#ff0000" stroke-width="1.8" />
<line x1="527" y1="443.3" x2="532.8" y2="443.3" stroke="#ff0000" stroke-width="1.8" />
<path d="M521.7,421.4 L538.1,429.6 L521.7,437.8 Z" fill="none" stroke="#ff0000" stroke-width="1.4" stroke-linejoin="miter"/>
<line x1="529.9" y1="453.5" x2="529.9" y2="481.1" stroke="#00f07c" stroke-width="2.0" />
<line x1="527" y1="453.5" x2="532.8" y2="453.5" stroke="#00f07c" stroke-width="1.8" />
<line x1="527" y1="481.1" x2="532.8" y2="481.1" stroke="#00f07c" stroke-width="1.8" />
<path d="M521.7,459.1 L538.1,467.3 L521.7,475.5 Z" fill="none" stroke="#00f07c" stroke-width="1.4" stroke-linejoin="miter"/>
<line x1="468.9" y1="372.8" x2="478.6" y2="372.8" stroke="#000" stroke-width="0.9" />
<line x1="521.7" y1="372.8" x2="531.4" y2="372.8" stroke="#000" stroke-width="0.9" />
<path d="M367.6,343.2 L360.6,358.9 L367.6,374.5" fill="none" stroke="#000" stroke-width="1.1"/>
<path d="M536.0,343.2 L543.2,359.4 L536.0,375.5" fill="none" stroke="#000" stroke-width="1.1"/>
<g opacity="0.999">
<text transform="translate(223.48,35.9) scale(1.0110,1)" font-family="Liberation Sans" font-size="15.07" fill="#000" >ED</text>
<text transform="translate(223.51,59.12) scale(0.9921,1)" font-family="Liberation Serif" font-style="italic" font-size="18.21" fill="#000" >C</text>
<text transform="translate(234.81,61) scale(1.0704,1)" font-family="Liberation Serif" font-size="11.36" fill="#000"  stroke="#000" stroke-width="0.3">12</text>
<text transform="translate(223.51,81.47) scale(0.9921,1)" font-family="Liberation Serif" font-style="italic" font-size="18.21" fill="#000" >C</text>
<text transform="translate(234.82,83.24) scale(1.0679,1)" font-family="Liberation Serif" font-size="11.19" fill="#000"  stroke="#000" stroke-width="0.3">13</text>
<text transform="translate(223.51,103.82) scale(0.9921,1)" font-family="Liberation Serif" font-style="italic" font-size="18.21" fill="#000" >C</text>
<text transform="translate(234.85,105.7) scale(1.0148,1)" font-family="Liberation Serif" font-size="11.45" fill="#000"  stroke="#000" stroke-width="0.3">14</text>
<text transform="translate(423.78,35.9) scale(1.0110,1)" font-family="Liberation Sans" font-size="15.07" fill="#000" >ED</text>
<text transform="translate(423.81,59.12) scale(0.9921,1)" font-family="Liberation Serif" font-style="italic" font-size="18.21" fill="#000" >C</text>
<text transform="translate(435.21,60.89) scale(0.9805,1)" font-family="Liberation Serif" font-size="11.19" fill="#000"  stroke="#000" stroke-width="0.3">1234</text>
<text transform="translate(423.81,81.47) scale(0.9921,1)" font-family="Liberation Serif" font-style="italic" font-size="18.21" fill="#000" >C</text>
<text transform="translate(435.2,83.24) scale(0.9937,1)" font-family="Liberation Serif" font-size="11.19" fill="#000"  stroke="#000" stroke-width="0.3">1245</text>
<text transform="translate(423.81,103.82) scale(0.9921,1)" font-family="Liberation Serif" font-style="italic" font-size="18.21" fill="#000" >C</text>
<text transform="translate(435.2,105.59) scale(0.9884,1)" font-family="Liberation Serif" font-size="11.19" fill="#000"  stroke="#000" stroke-width="0.3">1357</text>
<text transform="translate(635.88,35.9) scale(1.0110,1)" font-family="Liberation Sans" font-size="15.07" fill="#000" >ED</text>
<text transform="translate(635.91,59.12) scale(0.9921,1)" font-family="Liberation Serif" font-style="italic" font-size="18.21" fill="#000" >C</text>
<text transform="translate(647.22,60.89) scale(1.0679,1)" font-family="Liberation Serif" font-size="11.19" fill="#000"  stroke="#000" stroke-width="0.3">13</text>
<text transform="translate(635.91,81.47) scale(0.9921,1)" font-family="Liberation Serif" font-style="italic" font-size="18.21" fill="#000" >C</text>
<text transform="translate(647.22,83.24) scale(1.0599,1)" font-family="Liberation Serif" font-size="11.28" fill="#000"  stroke="#000" stroke-width="0.3">15</text>
<text transform="translate(635.91,103.82) scale(0.9921,1)" font-family="Liberation Serif" font-style="italic" font-size="18.21" fill="#000" >C</text>
<text transform="translate(647.21,105.7) scale(1.0704,1)" font-family="Liberation Serif" font-size="11.36" fill="#000"  stroke="#000" stroke-width="0.3">12</text>
<text transform="translate(635.91,126.22) scale(0.9921,1)" font-family="Liberation Serif" font-style="italic" font-size="18.21" fill="#000" >C</text>
<text transform="translate(647.3,127.99) scale(1.0011,1)" font-family="Liberation Serif" font-size="11.11" fill="#000"  stroke="#000" stroke-width="0.3">1278</text>
<text transform="translate(44.54,22.09) scale(0.9635,1)" font-family="Liberation Serif" font-size="33.68" fill="#000"  stroke="#fff" stroke-width="0.15">2.0</text>
<text transform="translate(44.06,123.39) scale(0.9561,1)" font-family="Liberation Serif" font-size="34.18" fill="#000"  stroke="#fff" stroke-width="0.15">1.5</text>
<text transform="translate(44.02,225.3) scale(0.9923,1)" font-family="Liberation Serif" font-size="33.38" fill="#000"  stroke="#fff" stroke-width="0.15">1.0</text>
<text transform="translate(280.06,22.27) scale(1.0432,1)" font-family="Liberation Serif" font-size="33.43" fill="#000"  stroke="#fff" stroke-width="0.15">3</text>
<text transform="translate(280.23,133.3) scale(1.0132,1)" font-family="Liberation Serif" font-size="34.55" fill="#000"  stroke="#fff" stroke-width="0.15">2</text>
<text transform="translate(280.8,243.6) scale(0.8986,1)" font-family="Liberation Serif" font-size="34.66" fill="#000"  stroke="#fff" stroke-width="0.15">1</text>
<text transform="translate(491.96,22.27) scale(1.0432,1)" font-family="Liberation Serif" font-size="33.43" fill="#000"  stroke="#fff" stroke-width="0.15">3</text>
<text transform="translate(492.13,133.3) scale(1.0132,1)" font-family="Liberation Serif" font-size="34.55" fill="#000"  stroke="#fff" stroke-width="0.15">2</text>
<text transform="translate(492.7,243.6) scale(0.8986,1)" font-family="Liberation Serif" font-size="34.66" fill="#000"  stroke="#fff" stroke-width="0.15">1</text>
<text transform="translate(85.62,287.46) scale(1.0045,1)" font-family="Liberation Serif" font-size="34.37" fill="#000"  stroke="#fff" stroke-width="0.15">0</text>
<text transform="translate(245.03,287) scale(0.8574,1)" font-family="Liberation Serif" font-size="34.66" fill="#000"  stroke="#fff" stroke-width="0.15">1</text>
<text transform="translate(166.77,317.2) scale(1.1293,1)" font-family="Liberation Serif" font-size="29.47" fill="#000" >Δ</text>
<text transform="translate(297.52,287.46) scale(1.0045,1)" font-family="Liberation Serif" font-size="34.37" fill="#000"  stroke="#fff" stroke-width="0.15">0</text>
<text transform="translate(456.93,287) scale(0.8574,1)" font-family="Liberation Serif" font-size="34.66" fill="#000"  stroke="#fff" stroke-width="0.15">1</text>
<text transform="translate(378.67,317.2) scale(1.1293,1)" font-family="Liberation Serif" font-size="29.47" fill="#000" >Δ</text>
<text transform="translate(509.42,287.46) scale(1.0045,1)" font-family="Liberation Serif" font-size="34.37" fill="#000"  stroke="#fff" stroke-width="0.15">0</text>
<text transform="translate(668.83,287) scale(0.8574,1)" font-family="Liberation Serif" font-size="34.66" fill="#000"  stroke="#fff" stroke-width="0.15">1</text>
<text transform="translate(590.57,317.2) scale(1.1293,1)" font-family="Liberation Serif" font-size="29.47" fill="#000" >Δ</text>
<text transform="translate(102.65,41.14) scale(0.9288,1)" font-family="Liberation Serif" font-size="27.44" fill="#000" >(</text>
<text transform="translate(109.95,40.56) scale(1.2052,1)" font-family="Liberation Serif" font-style="italic" font-size="23.54" fill="#000" >a</text>
<text transform="translate(122.65,41.14) scale(0.9109,1)" font-family="Liberation Serif" font-size="27.44" fill="#000" >)</text>
<text transform="translate(314.65,38.18) scale(0.9519,1)" font-family="Liberation Serif" font-size="26.78" fill="#000" >(</text>
<text transform="translate(322.35,38.05) scale(0.8563,1)" font-family="Liberation Serif" font-style="italic" font-size="24.71" fill="#000" >b</text>
<text transform="translate(332.05,38.18) scale(0.9336,1)" font-family="Liberation Serif" font-size="26.78" fill="#000" >)</text>
<text transform="translate(526.65,38.25) scale(0.9480,1)" font-family="Liberation Serif" font-size="26.89" fill="#000" >(</text>
<text transform="translate(534.3,38.05) scale(0.9542,1)" font-family="Liberation Serif" font-style="italic" font-size="24.58" fill="#000" >c</text>
<text transform="translate(544.05,38.25) scale(0.9298,1)" font-family="Liberation Serif" font-size="26.89" fill="#000" >)</text>
<text transform="translate(577.48,439.73) scale(1.0478,1)" font-family="Liberation Serif" font-size="26.81" fill="#000" >8</text>
<text transform="translate(597.71,443.01) scale(1.0480,1)" font-family="Liberation Serif" font-size="30.86" fill="#000"  stroke="#fff" stroke-width="0.15">×</text>
<text transform="translate(622.83,439.73) scale(0.9945,1)" font-family="Liberation Serif" font-size="26.81" fill="#000" >8</text>
<text transform="translate(578.17,477.23) scale(0.9333,1)" font-family="Liberation Serif" font-size="26.81" fill="#000" >20</text>
<text transform="translate(609.91,480.38) scale(1.0565,1)" font-family="Liberation Serif" font-size="30.62" fill="#000"  stroke="#fff" stroke-width="0.15">×</text>
<text transform="translate(635.23,477.23) scale(0.9659,1)" font-family="Liberation Serif" font-size="26.81" fill="#000" >20</text>
<text transform="translate(-1.87,447.6) scale(0.9439,1)" font-family="Liberation Serif" font-size="33.53" fill="#000"  stroke="#fff" stroke-width="0.15">0.0225</text>
<text transform="translate(-1.87,526.65) scale(0.9439,1)" font-family="Liberation Serif" font-size="33.53" fill="#000"  stroke="#fff" stroke-width="0.15">0.0200</text>
<text transform="translate(-1.87,605.7) scale(0.9439,1)" font-family="Liberation Serif" font-size="33.53" fill="#000"  stroke="#fff" stroke-width="0.15">0.0175</text>
<text transform="translate(-1.87,684.75) scale(0.9439,1)" font-family="Liberation Serif" font-size="33.53" fill="#000"  stroke="#fff" stroke-width="0.15">0.0150</text>
<text transform="translate(-1.87,763.8) scale(0.9439,1)" font-family="Liberation Serif" font-size="33.53" fill="#000"  stroke="#fff" stroke-width="0.15">0.0125</text>
<text transform="translate(92.81,794.59) scale(0.9442,1)" font-family="Liberation Serif" font-size="34.12" fill="#000"  stroke="#fff" stroke-width="0.15">0.00</text>
<text transform="translate(226.91,794.59) scale(0.9442,1)" font-family="Liberation Serif" font-size="34.12" fill="#000"  stroke="#fff" stroke-width="0.15">0.25</text>
<text transform="translate(361.01,794.59) scale(0.9442,1)" font-family="Liberation Serif" font-size="34.12" fill="#000"  stroke="#fff" stroke-width="0.15">0.50</text>
<text transform="translate(495.11,794.59) scale(0.9442,1)" font-family="Liberation Serif" font-size="34.12" fill="#000"  stroke="#fff" stroke-width="0.15">0.75</text>
<text transform="translate(629.39,794.59) scale(0.9463,1)" font-family="Liberation Serif" font-size="34.12" fill="#000"  stroke="#fff" stroke-width="0.15">1.00</text>
<text transform="translate(378.69,824.6) scale(1.1408,1)" font-family="Liberation Serif" font-size="28.70" fill="#000" >Δ</text>
<text transform="translate(121.62,737.75) scale(0.9238,1)" font-family="Liberation Serif" font-size="33.11" fill="#000"  stroke="#fff" stroke-width="0.15">(</text>
<text transform="translate(130.57,737.4) scale(1.0235,1)" font-family="Liberation Serif" font-style="italic" font-size="30.14" fill="#000"  stroke="#fff" stroke-width="0.15">d</text>
<text transform="translate(146.1,737.75) scale(0.9060,1)" font-family="Liberation Serif" font-size="33.11" fill="#000"  stroke="#fff" stroke-width="0.15">)</text>
<text transform="translate(231.16,366.5) scale(1.0538,1)" font-family="Liberation Serif" font-style="italic" font-size="30.00" fill="#000"  stroke="#fff" stroke-width="0.15">C</text>
<text transform="translate(251.03,370.38) scale(1.1923,1)" font-family="Liberation Serif" font-size="15.69" fill="#000" >4</text>
<text transform="translate(261.85,366.72) scale(0.8528,1)" font-family="Liberation Serif" font-size="29.89" fill="#000" >(</text>
<text transform="translate(272.08,366.5) scale(0.9656,1)" font-family="Liberation Serif" font-style="italic" font-size="29.08" fill="#000" >L</text>
<text transform="translate(288.7,372.6) scale(0.7371,1)" font-family="Liberation Serif" font-size="40.45" fill="#000"  stroke="#fff" stroke-width="0.15">/</text>
<text transform="translate(300.85,366.3) scale(0.9344,1)" font-family="Liberation Serif" font-size="29.70" fill="#000" >2</text>
<text transform="translate(314.22,366.72) scale(0.7592,1)" font-family="Liberation Serif" font-size="29.89" fill="#000" >)</text>
<text transform="translate(329.75,368.38) scale(1.3599,1)" font-family="Liberation Serif" font-size="27.20" fill="#000" >=</text>
<text transform="translate(371.79,366.5) scale(1.0246,1)" font-family="Liberation Serif" font-style="italic" font-size="30.00" fill="#000"  stroke="#fff" stroke-width="0.15">S</text>
<text transform="translate(389,356.6) scale(1.4379,1)" font-family="Liberation Serif" font-style="italic" font-size="14.07" fill="#000" >x</text>
<text transform="translate(386.35,373) scale(1.0877,1)" font-family="Liberation Serif" font-size="17.86" fill="#000" >1</text>
<text transform="translate(400.39,366.5) scale(1.0246,1)" font-family="Liberation Serif" font-style="italic" font-size="30.00" fill="#000"  stroke="#fff" stroke-width="0.15">S</text>
<text transform="translate(417.6,356.6) scale(1.4379,1)" font-family="Liberation Serif" font-style="italic" font-size="14.07" fill="#000" >x</text>
<text transform="translate(415.9,373) scale(1.0013,1)" font-family="Liberation Serif" font-size="17.73" fill="#000" >2</text>
<text transform="translate(429.01,366.5) scale(0.9754,1)" font-family="Liberation Serif" font-style="italic" font-size="30.00" fill="#000"  stroke="#fff" stroke-width="0.15">S</text>
<text transform="translate(446.31,356.6) scale(1.1333,1)" font-family="Liberation Serif" font-style="italic" font-size="18.24" fill="#000" >x</text>
<text transform="translate(444.43,377.8) scale(0.9206,1)" font-family="Liberation Serif" font-size="18.93" fill="#000" >1</text>
<text transform="translate(452.86,381) scale(1.0753,1)" font-family="Liberation Serif" font-size="25.00" fill="#000" >+</text>
<text transform="translate(469.56,370.2) scale(1.0480,1)" font-family="Liberation Serif" font-style="italic" font-size="15.23" fill="#000" >L</text>
<text transform="translate(470.12,383.8) scale(1.1250,1)" font-family="Liberation Serif" font-size="13.33" fill="#000" >2</text>
<text transform="translate(481.81,366.5) scale(0.9754,1)" font-family="Liberation Serif" font-style="italic" font-size="30.00" fill="#000"  stroke="#fff" stroke-width="0.15">S</text>
<text transform="translate(499.11,356.6) scale(1.1333,1)" font-family="Liberation Serif" font-style="italic" font-size="18.24" fill="#000" >x</text>
<text transform="translate(498.05,377.8) scale(0.8915,1)" font-family="Liberation Serif" font-size="18.79" fill="#000" >2</text>
<text transform="translate(505.66,381) scale(1.0753,1)" font-family="Liberation Serif" font-size="25.00" fill="#000" >+</text>
<text transform="translate(522.36,370.2) scale(1.0480,1)" font-family="Liberation Serif" font-style="italic" font-size="15.23" fill="#000" >L</text>
<text transform="translate(522.93,383.8) scale(1.1250,1)" font-family="Liberation Serif" font-size="13.33" fill="#000" >2</text>
<g transform="translate(32.7,168.5) rotate(-90)">
<text transform="translate(-0.48,0) scale(1.1240,1)" font-family="Liberation Serif" font-style="italic" font-size="28.31" fill="#000" >Z</text>
<text transform="translate(17.77,0.43) scale(1.1479,1)" font-family="Liberation Serif" font-style="italic" font-size="26.88" fill="#000" >r</text>
<text transform="translate(32.7,6.4) scale(0.8900,1)" font-family="Liberation Serif" font-size="40.45" fill="#000"  stroke="#fff" stroke-width="0.15">/</text>
<text transform="translate(43.51,0) scale(1.1433,1)" font-family="Liberation Serif" font-style="italic" font-size="28.31" fill="#000" >Z</text>
<text transform="translate(61.73,0.43) scale(1.1798,1)" font-family="Liberation Serif" font-style="italic" font-size="26.88" fill="#000" >r</text>
<line x1="6.1" y1="-21.9" x2="15.5" y2="-21.9" stroke="#000" stroke-width="1.1"/>
</g>
</g></svg>
</body></html>
